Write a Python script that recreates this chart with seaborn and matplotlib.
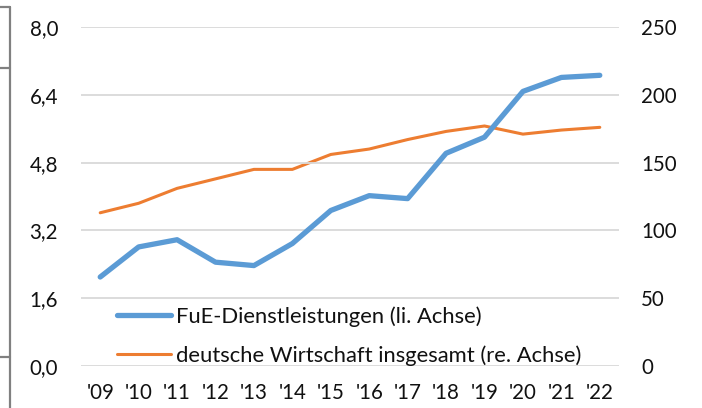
import matplotlib
matplotlib.use("Agg")
import matplotlib.pyplot as plt
import seaborn as sns
import pandas as pd
from matplotlib.lines import Line2D

years = ["'09", "'10", "'11", "'12", "'13", "'14", "'15", "'16", "'17", "'18", "'19", "'20", "'21", "'22"]
fue = [2.10, 2.81, 2.98, 2.45, 2.37, 2.89, 3.67, 4.02, 3.95, 5.02, 5.40, 6.48, 6.81, 6.86]
wirtschaft = [113, 120, 131, 138, 145, 145, 156, 160, 167, 173, 177, 171, 174, 176]
left_ticks = [0.0, 1.6, 3.2, 4.8, 6.4, 8.0]
right_ticks = [0, 50, 100, 150, 200, 250]
label_fue = "FuE-Dienstleistungen (li. Achse)"
label_wi = "deutsche Wirtschaft insgesamt (re. Achse)"

sns.set_style("white")
plt.rcParams['font.family'] = ['Lato', 'DejaVu Sans']
FS = 14.8
LFS = 15.8
TXT = '#111111'

df = pd.DataFrame({"Jahr": years, "FuE": fue, "Wirtschaft": wirtschaft})
df["x"] = range(len(years))

fig = plt.figure(figsize=(7.02, 4.08), dpi=100)
ax = fig.add_axes([81/702, 1-366/408, 538/702, 339/408])
ax2 = ax.twinx()

sns.lineplot(data=df, x="x", y="FuE", ax=ax, color="#5B9BD5", linewidth=3.8,
             solid_capstyle='round', legend=False, zorder=3)
sns.lineplot(data=df, x="x", y="Wirtschaft", ax=ax2, color="#ED7D31", linewidth=2.2,
             legend=False, zorder=2)
ax.set_zorder(ax2.get_zorder() + 1)
ax.patch.set_visible(False)

ax.set_xlim(-0.5, len(years) - 0.5)
ax.set_ylim(0, 8.0)
ax2.set_ylim(0, 250)
ax.set_xticks(range(len(years)))
ax.set_xticklabels(years)
ax.set_yticks(left_ticks)
ax.set_yticklabels([f"{v:.1f}".replace('.', ',') for v in left_ticks])
ax2.set_yticks(right_ticks)
ax2.set_yticklabels([str(v) for v in right_ticks])
ax.set_xlabel("")
ax.set_ylabel("")
ax2.set_ylabel("")

ax.grid(axis='y', color='#D9D9D9', linewidth=1.3)
ax.grid(axis='x', visible=False)
ax2.grid(False)
for a in (ax, ax2):
    for s in a.spines.values():
        s.set_visible(False)
ax.tick_params(axis='both', length=0, labelsize=FS, colors=TXT)
ax.tick_params(axis='y', pad=16.5)
ax.tick_params(axis='x', pad=12)
ax2.tick_params(axis='y', length=0, labelsize=FS, colors=TXT, pad=15.8)

handles = [Line2D([0], [0], color="#5B9BD5", linewidth=3.8, solid_capstyle='round'),
           Line2D([0], [0], color="#ED7D31", linewidth=2.2)]
leg = ax.legend(handles, [label_fue, label_wi], loc='lower left', bbox_to_anchor=(0.067, 0.0),
                frameon=False, fontsize=LFS, borderpad=0, handlelength=2.45, handletextpad=0.22,
                labelspacing=0.84, borderaxespad=0)
for t in leg.get_texts():
    t.set_color(TXT)

# decorative bracket at left edge
W, H = 702, 408
gc = '#808080'
fig.add_artist(Line2D([10/W, 10/W], [1-7/H, 0], color=gc, linewidth=1.6, transform=fig.transFigure))
for yy in (7, 68, 357):
    fig.add_artist(Line2D([0, 10/W], [1-yy/H, 1-yy/H], color=gc, linewidth=1.6, transform=fig.transFigure))

fig.savefig("out.png", dpi=100)
